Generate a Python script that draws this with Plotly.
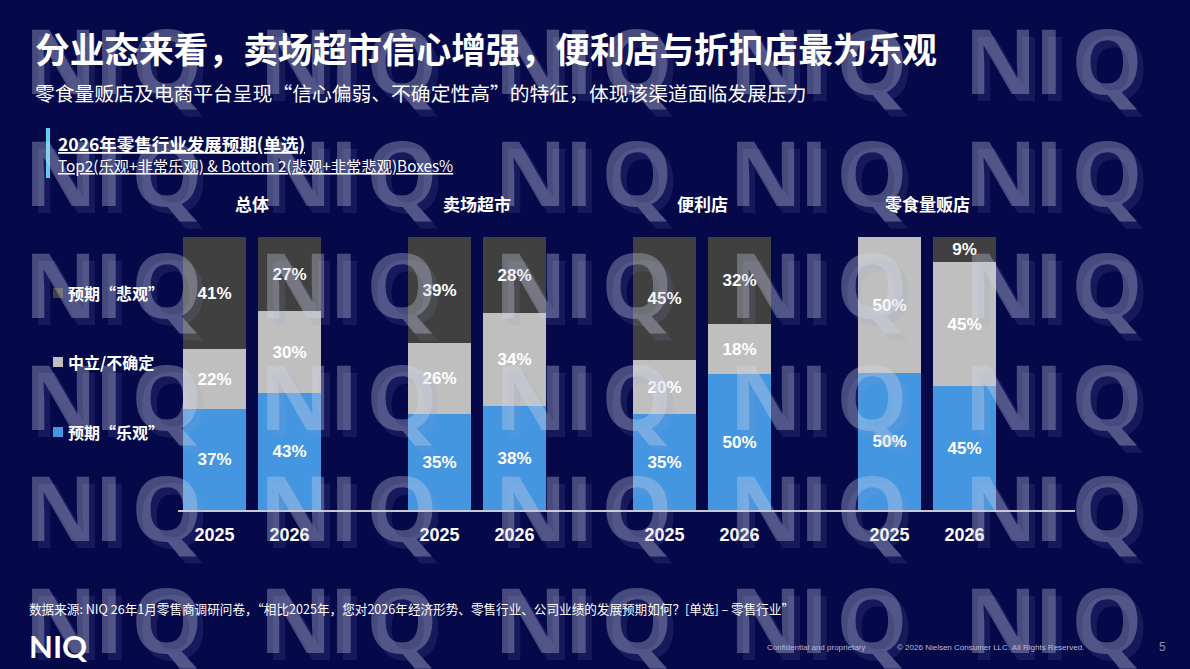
import plotly.graph_objects as go

# ---------------- data ----------------
channels = ["总体", "卖场超市", "便利店", "零食量贩店"]
years = ["2025", "2026"]
series_names = ["预期“乐观”", "中立/不确定", "预期“悲观”"]
series_colors = ["#4596E0", "#BFBFBF", "#404040"]

optimistic = [37, 43, 35, 38, 35, 50, 50.2, 45.4]
neutral = [22, 30, 26, 34, 20, 18, 49.8, 45.4]
pessimistic = [41, 27, 39, 28, 45, 32, 0, 9.2]
series_values = [optimistic, neutral, pessimistic]

title = "分业态来看，卖场超市信心增强，便利店与折扣店最为乐观"
subtitle = "零食量贩店及电商平台呈现“信心偏弱、不确定性高”的特征，体现该渠道面临发展压力"
chart_title = "2026年零售行业发展预期(单选)"
chart_sub = "Top2(乐观+非常乐观) & Bottom 2(悲观+非常悲观)Boxes%"
source = "数据来源: NIQ 26年1月零售商调研问卷，“相比2025年，您对2026年经济形势、零售行业、公司业绩的发展预期如何？[单选] – 零售行业”"

W, H = 1190, 669
BG = "#05094A"
CJK = "Noto Sans CJK SC"
LAT = "Liberation Sans, Arial, sans-serif"


def px(x):
    return x / W


def py(y):
    return 1 - y / H


# x positions: group i, year j -> 3*i + j
xpos = [3 * i + j for i in range(len(channels)) for j in range(len(years))]
xlabels = [years[j] for i in range(len(channels)) for j in range(len(years))]

fig = go.Figure()
for name, color, vals in zip(series_names, series_colors, series_values):
    fig.add_trace(go.Bar(
        x=xpos, y=vals, name=name,
        marker=dict(color=color, line=dict(width=0)),
        width=0.84,
        text=[f"{v:.0f}%" if v > 0 else "" for v in vals],
        textposition="inside", insidetextanchor="middle", textangle=0,
        constraintext="none",
        textfont=dict(family=LAT, size=17, color="white", weight="bold"),
        showlegend=False, hoverinfo="skip",
    ))

annotations = []
shapes = []

# watermark "NIQ" pattern
wm_rows = [59, 171, 283, 395, 506, 618]
wm_cols = [33, 268, 503, 738, 973]
letter_offsets = [("N", 27), ("I", 76), ("Q", 134)]
for (dx, dy, col) in [(6, 7, "rgba(150,155,205,0.12)"), (0, 0, "rgba(215,220,240,0.31)")]:
    for ry in wm_rows:
        for cx in wm_cols:
            for ch, off in letter_offsets:
                annotations.append(dict(
                    x=px(cx + off + dx), y=py(ry + dy), xref="paper", yref="paper",
                    text=ch, showarrow=False, xanchor="center", yanchor="middle",
                    font=dict(family="Open Sans, Lato, sans-serif", size=90, color=col, weight="bold"),
                ))

# title / subtitle
annotations.append(dict(x=px(33), y=py(48), xref="paper", yref="paper", text=title,
                        showarrow=False, xanchor="left", yanchor="middle",
                        font=dict(family=CJK, size=34.7, color="white", weight="bold")))
annotations.append(dict(x=px(33), y=py(92), xref="paper", yref="paper", text=subtitle,
                        showarrow=False, xanchor="left", yanchor="middle",
                        font=dict(family=CJK, size=19.8, color="white")))

# chart header block
shapes.append(dict(type="rect", xref="paper", yref="paper",
                   x0=px(46), x1=px(50), y0=py(178), y1=py(128),
                   fillcolor="#5BD3EE", line=dict(width=0)))
annotations.append(dict(x=px(56), y=py(143), xref="paper", yref="paper",
                        text=f"<u>{chart_title}</u>", showarrow=False,
                        xanchor="left", yanchor="middle",
                        font=dict(family=CJK, size=17.5, color="white", weight="bold")))
annotations.append(dict(x=px(56), y=py(165), xref="paper", yref="paper",
                        text=f"<u>{chart_sub}</u>", showarrow=False,
                        xanchor="left", yanchor="middle",
                        font=dict(family=CJK, size=15.3, color="white")))

# group titles
for i, ch in enumerate(channels):
    annotations.append(dict(x=3 * i + 0.5, y=py(203), xref="x", yref="paper", text=ch,
                            showarrow=False, xanchor="center", yanchor="middle",
                            font=dict(family=CJK, size=17, color="white", weight="bold")))

# custom legend (top to bottom: pessimistic, neutral, optimistic)
legend_y = [293, 362, 432]
for name, color, ly in zip(series_names[::-1], series_colors[::-1], legend_y):
    shapes.append(dict(type="rect", xref="paper", yref="paper",
                       x0=px(53), x1=px(63), y0=py(ly + 5), y1=py(ly - 5),
                       fillcolor=color, line=dict(width=0)))
    annotations.append(dict(x=px(66), y=py(ly), xref="paper", yref="paper", text=name,
                            showarrow=False, xanchor="left", yanchor="middle",
                            font=dict(family=CJK, size=16, color="white", weight="bold")))

# footer
annotations.append(dict(x=px(27), y=py(608), xref="paper", yref="paper", text=source,
                        showarrow=False, xanchor="left", yanchor="middle",
                        font=dict(family=CJK, size=12.6, color="white")))
annotations.append(dict(x=px(27), y=py(646), xref="paper", yref="paper", text="NIQ",
                        showarrow=False, xanchor="left", yanchor="middle",
                        font=dict(family="Lato, Roboto, sans-serif", size=31, color="white", weight="bold")))
annotations.append(dict(x=px(765), y=py(647), xref="paper", yref="paper",
                        text="Confidential and proprietary", showarrow=False,
                        xanchor="left", yanchor="middle",
                        font=dict(family=LAT, size=8, color="#B8BAD6")))
annotations.append(dict(x=px(895), y=py(647), xref="paper", yref="paper",
                        text="© 2026 Nielsen Consumer LLC. All Rights Reserved.", showarrow=False,
                        xanchor="left", yanchor="middle",
                        font=dict(family=LAT, size=8, color="#B8BAD6")))
annotations.append(dict(x=px(1157), y=py(647), xref="paper", yref="paper",
                        text="5", showarrow=False, xanchor="left", yanchor="middle",
                        font=dict(family=LAT, size=12, color="#8C8FB5")))

fig.update_layout(
    width=W, height=H,
    margin=dict(l=0, r=0, t=0, b=0),
    paper_bgcolor=BG, plot_bgcolor="rgba(0,0,0,0)",
    barmode="stack", bargap=0,
    annotations=annotations, shapes=shapes,
    xaxis=dict(domain=[px(178), px(1075)], range=[-0.487, 11.473],
               tickmode="array", tickvals=xpos, ticktext=xlabels,
               tickfont=dict(family=LAT, size=18, color="white", weight="bold"),
               showline=True, linecolor="#C8C8D0", linewidth=1.5,
               showgrid=False, zeroline=False, ticks="", ticklabelstandoff=8,
               fixedrange=True),
    yaxis=dict(domain=[py(510), py(237)], range=[0, 100], visible=False,
               showgrid=False, zeroline=False, fixedrange=True),
    showlegend=False,
)

fig.write_html(
    "out.html",
    config={"displayModeBar": False},
    post_script="document.body.style.margin='0';document.body.style.background='#05094A';document.body.style.overflow='hidden';",
)
